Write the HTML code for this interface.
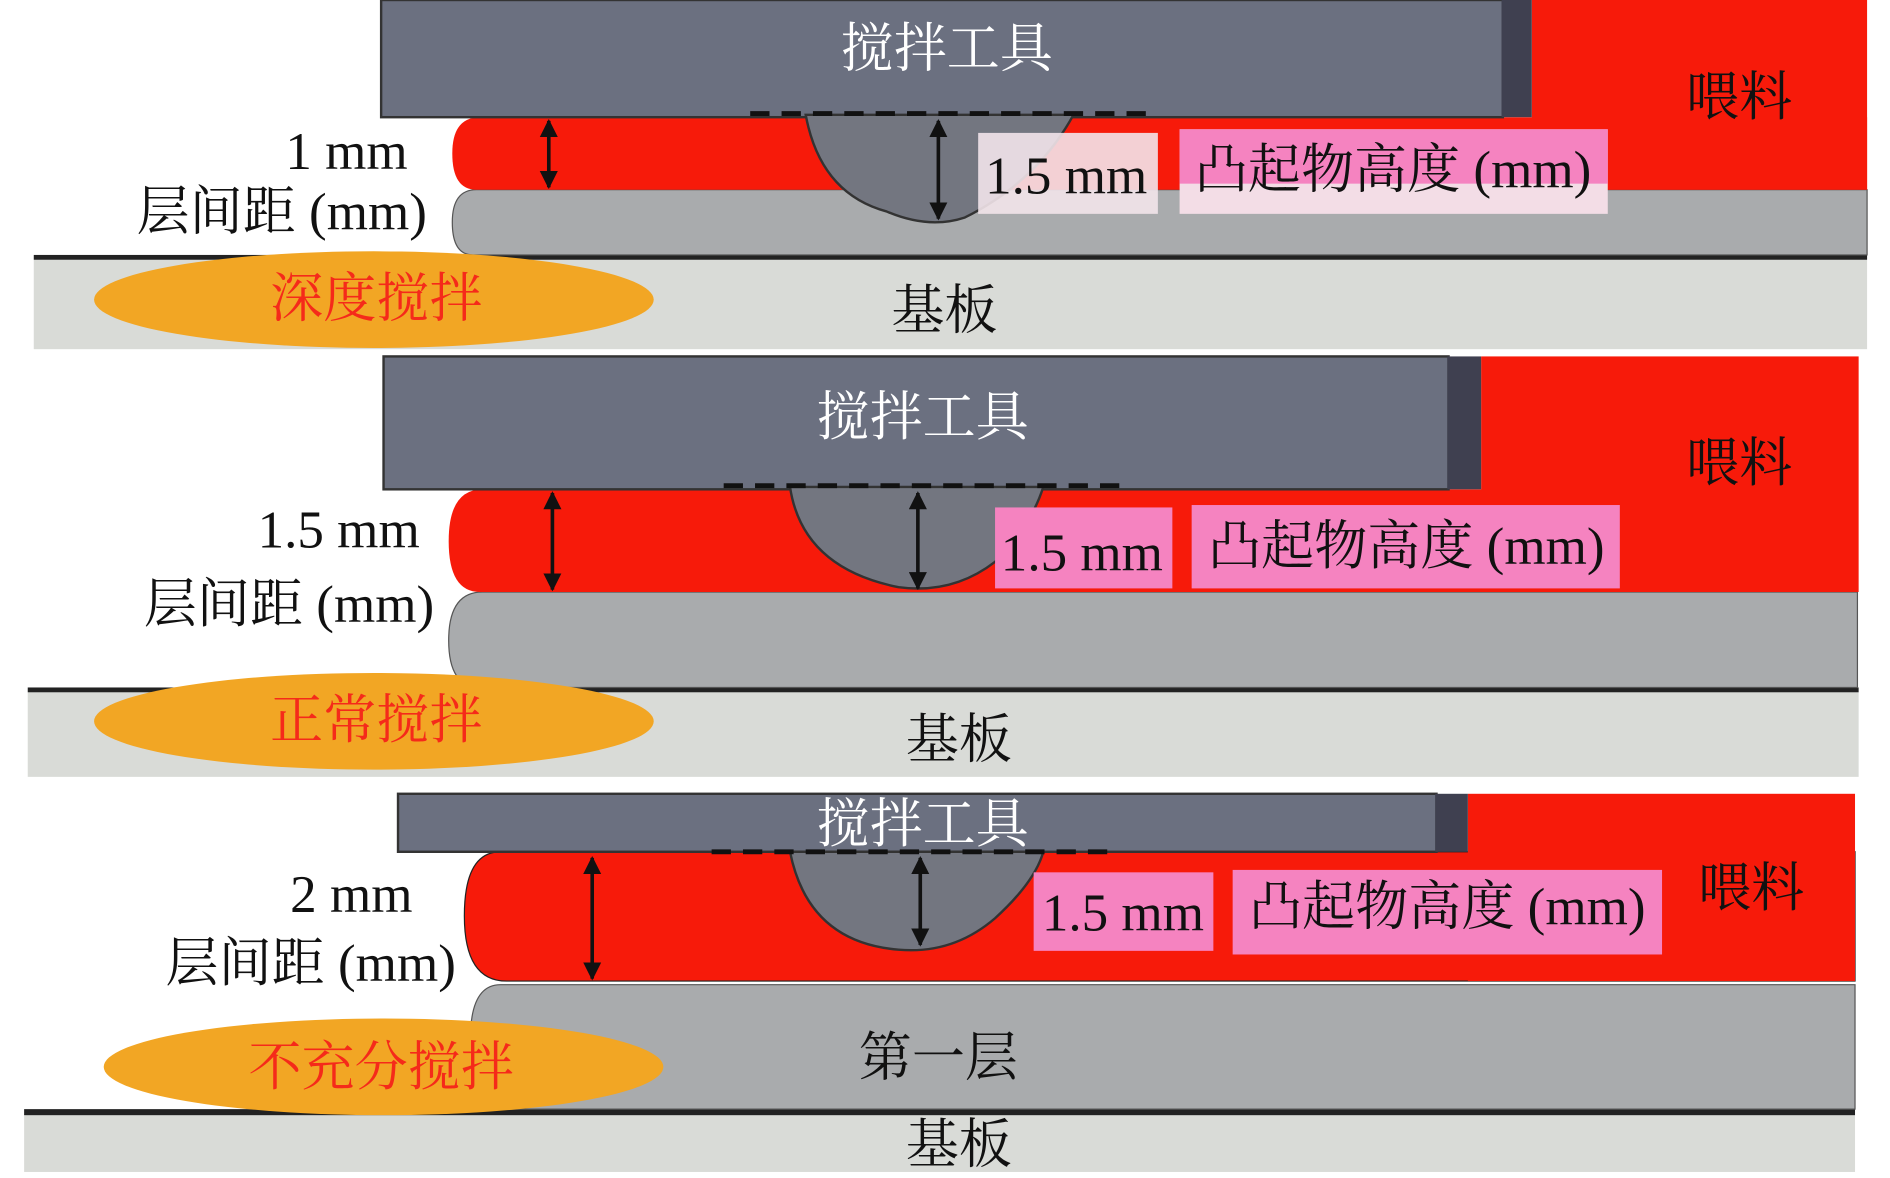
<!DOCTYPE html>
<html><head><meta charset="utf-8"><style>
html,body{margin:0;padding:0;background:#fff;}
svg{display:block;}
text{font-family:"Liberation Serif","Noto Serif CJK SC",serif;}
</style></head><body>
<svg width="1890" height="1178" viewBox="0 0 1567 975" preserveAspectRatio="none" xmlns="http://www.w3.org/2000/svg">
<defs>
<marker id="ah" viewBox="0 0 10 10" refX="9" refY="5" markerWidth="5" markerHeight="5" orient="auto-start-reverse"><path d="M0,0 L10,5 L0,10z" fill="#111"/></marker>
</defs>

<!-- PANEL 1 -->
<rect x="28" y="215" width="1520" height="74" fill="#d9dbd7"/>
<rect x="28" y="211" width="1520" height="4" fill="#222"/>
<path d="M395,157 H1548 V211 H392 Q375,211 375,184 Q375,157 395,157z" fill="#a9abad" stroke="#555" stroke-width="1"/>
<path d="M398,97 H1548 V157 H395 Q375,157 375,127 Q375,97 398,97z" fill="#f71a0a"/>
<rect x="1270" y="0" width="278" height="157" fill="#f71a0a"/>
<rect x="316" y="0" width="930" height="97" fill="#6b7080" stroke="#333" stroke-width="2"/>
<rect x="1245" y="0" width="25" height="97" fill="#3f4050"/>
<path d="M668,95 Q680,160 735,175 Q770,190 800,180 Q860,150 890,95z" fill="#737680" stroke="#333" stroke-width="2"/>
<line x1="622" y1="94" x2="955" y2="94" stroke="#111" stroke-width="4" stroke-dasharray="16,10"/>
<line x1="455" y1="100" x2="455" y2="155" stroke="#111" stroke-width="3" marker-start="url(#ah)" marker-end="url(#ah)"/>
<line x1="778" y1="100" x2="778" y2="181" stroke="#111" stroke-width="3" marker-start="url(#ah)" marker-end="url(#ah)"/>
<rect x="811" y="110" width="149" height="67" fill="#f2e4ea" opacity="0.9"/>
<rect x="978" y="107" width="355" height="70" fill="#f3dde6"/>
<rect x="978" y="107" width="355" height="45" fill="#f583c0"/>
<ellipse cx="310" cy="248" rx="232" ry="40" fill="#f2a624"/>
<text x="785" y="55" font-size="44" fill="#fff" text-anchor="middle">搅拌工具</text>
<text x="1442" y="95" font-size="44" fill="#111" text-anchor="middle">喂料</text>
<text x="338" y="140" font-size="44" fill="#111" text-anchor="end">1 mm</text>
<text x="354" y="190" font-size="44" fill="#111" text-anchor="end">层间距 (mm)</text>
<text x="884" y="160" font-size="44" fill="#111" text-anchor="middle">1.5 mm</text>
<text x="1155" y="155" font-size="44" fill="#111" text-anchor="middle">凸起物高度 (mm)</text>
<text x="312" y="262" font-size="44" fill="#f52a1a" text-anchor="middle">深度搅拌</text>
<text x="783" y="272" font-size="44" fill="#111" text-anchor="middle">基板</text>

<!-- PANEL 2 -->
<rect x="23" y="573" width="1518" height="70" fill="#d9dbd7"/>
<rect x="23" y="569" width="1518" height="4" fill="#222"/>
<path d="M400,490 H1540 V569 H398 Q372,569 372,530 Q372,490 400,490z" fill="#a9abad" stroke="#555" stroke-width="1"/>
<path d="M400,405 H1540 V490 H398 Q372,490 372,448 Q372,405 400,405z" fill="#f71a0a"/>
<rect x="1228" y="295" width="313" height="195" fill="#f71a0a"/>
<rect x="318" y="295" width="883" height="110" fill="#6b7080" stroke="#333" stroke-width="2"/>
<rect x="1200" y="295" width="28" height="110" fill="#3f4050"/>
<path d="M655,403 Q665,470 745,486 Q790,492 825,465 Q855,435 865,403z" fill="#737680" stroke="#333" stroke-width="2"/>
<line x1="600" y1="402" x2="935" y2="402" stroke="#111" stroke-width="4" stroke-dasharray="16,10"/>
<line x1="458" y1="408" x2="458" y2="488" stroke="#111" stroke-width="3" marker-start="url(#ah)" marker-end="url(#ah)"/>
<line x1="761" y1="408" x2="761" y2="487" stroke="#111" stroke-width="3" marker-start="url(#ah)" marker-end="url(#ah)"/>
<rect x="825" y="420" width="147" height="67" fill="#f583c0"/>
<rect x="988" y="418" width="355" height="69" fill="#f583c0"/>
<ellipse cx="310" cy="597" rx="232" ry="40" fill="#f2a624"/>
<text x="765" y="360" font-size="44" fill="#fff" text-anchor="middle">搅拌工具</text>
<text x="1442" y="398" font-size="44" fill="#111" text-anchor="middle">喂料</text>
<text x="348" y="453" font-size="44" fill="#111" text-anchor="end">1.5 mm</text>
<text x="360" y="515" font-size="44" fill="#111" text-anchor="end">层间距 (mm)</text>
<text x="897" y="472" font-size="44" fill="#111" text-anchor="middle">1.5 mm</text>
<text x="1166" y="467" font-size="44" fill="#111" text-anchor="middle">凸起物高度 (mm)</text>
<text x="312" y="611" font-size="44" fill="#f52a1a" text-anchor="middle">正常搅拌</text>
<text x="795" y="627" font-size="44" fill="#111" text-anchor="middle">基板</text>

<!-- PANEL 3 -->
<rect x="20" y="922" width="1518" height="48" fill="#d9dbd7"/>
<rect x="20" y="918" width="1518" height="5" fill="#222"/>
<path d="M415,815 H1538 V918 H390 V860 Q390,815 415,815z" fill="#a9abad" stroke="#555" stroke-width="1"/>
<path d="M415,705 H1538 V812 H420 Q385,812 385,758 Q385,705 415,705z" fill="#f71a0a" stroke="#222" stroke-width="1"/>
<rect x="1217" y="657" width="321" height="155" fill="#f71a0a"/>
<rect x="330" y="657" width="861" height="48" fill="#6b7080" stroke="#333" stroke-width="2"/>
<rect x="1190" y="657" width="27" height="48" fill="#3f4050"/>
<path d="M655,705 Q670,780 745,786 Q790,790 825,760 Q858,730 865,705z" fill="#737680" stroke="#333" stroke-width="2"/>
<line x1="590" y1="705" x2="920" y2="705" stroke="#111" stroke-width="4" stroke-dasharray="16,10"/>
<line x1="491" y1="710" x2="491" y2="810" stroke="#111" stroke-width="3" marker-start="url(#ah)" marker-end="url(#ah)"/>
<line x1="763" y1="710" x2="763" y2="782" stroke="#111" stroke-width="3" marker-start="url(#ah)" marker-end="url(#ah)"/>
<rect x="857" y="722" width="149" height="65" fill="#f583c0"/>
<rect x="1022" y="720" width="356" height="70" fill="#f583c0"/>
<ellipse cx="318" cy="883" rx="232" ry="40" fill="#f2a624"/>
<text x="765" y="697" font-size="44" fill="#fff" text-anchor="middle">搅拌工具</text>
<text x="1452" y="750" font-size="44" fill="#111" text-anchor="middle">喂料</text>
<text x="342" y="755" font-size="44" fill="#111" text-anchor="end">2 mm</text>
<text x="378" y="812" font-size="44" fill="#111" text-anchor="end">层间距 (mm)</text>
<text x="931" y="770" font-size="44" fill="#111" text-anchor="middle">1.5 mm</text>
<text x="1200" y="765" font-size="44" fill="#111" text-anchor="middle">凸起物高度 (mm)</text>
<text x="316" y="898" font-size="44" fill="#f52a1a" text-anchor="middle">不充分搅拌</text>
<text x="778" y="890" font-size="44" fill="#111" text-anchor="middle">第一层</text>
<text x="795" y="962" font-size="44" fill="#111" text-anchor="middle">基板</text>
</svg>
</body></html>
